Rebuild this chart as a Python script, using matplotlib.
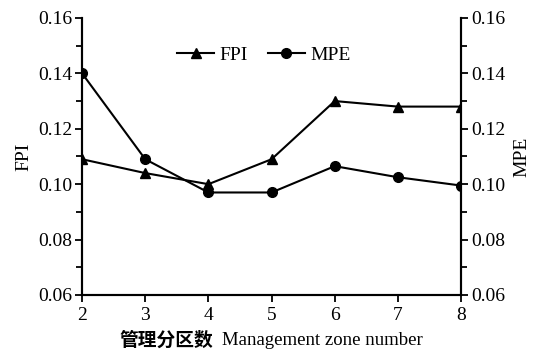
import matplotlib.pyplot as plt
from matplotlib.ticker import MultipleLocator, FormatStrFormatter

plt.rcParams['font.family'] = ['Liberation Serif', 'Noto Sans CJK SC']

zones = [2, 3, 4, 5, 6, 7, 8]
fpi = [0.109, 0.104, 0.100, 0.109, 0.130, 0.128, 0.128]
mpe = [0.140, 0.109, 0.097, 0.097, 0.1065, 0.1025, 0.0995]

fig = plt.figure(figsize=(5.33, 3.52), dpi=100)
ax = fig.add_axes([0.154, 0.162, 0.711, 0.787])
ax2 = ax.twinx()

l1, = ax.plot(zones, fpi, color='black', lw=1.5, marker='^', ms=7.5, label='FPI')
l2, = ax2.plot(zones, mpe, color='black', lw=1.5, marker='o', ms=7, label='MPE')

for a in (ax, ax2):
    a.set_ylim(0.06, 0.16)
    a.set_xlim(2, 8)
    a.yaxis.set_major_locator(MultipleLocator(0.02))
    a.yaxis.set_minor_locator(MultipleLocator(0.01))
    a.yaxis.set_major_formatter(FormatStrFormatter('%.2f'))
    a.spines['top'].set_visible(False)
    for s in a.spines.values():
        s.set_linewidth(1.5)
    a.tick_params(which='major', direction='out', length=5, width=1.3, labelsize=14, pad=2)
    a.tick_params(which='minor', direction='out', length=4, width=1.3)

ax.xaxis.set_major_locator(MultipleLocator(1))
ax.tick_params(axis='x', pad=4)
ax.set_ylabel('FPI', fontsize=14, labelpad=4)
ax2.set_ylabel('MPE', fontsize=14, labelpad=6)

# x label: Chinese part bold, English part regular
fig.text(0.401, 0.034, '管理分区数', fontsize=13.5, fontweight='bold',
         family='Noto Sans CJK SC', ha='right', va='center')
fig.text(0.416, 0.034, 'Management zone number', fontsize=13.5,
         ha='left', va='center')

ax.legend([l1, l2], ['FPI', 'MPE'], loc='upper center', ncol=2, frameon=False,
          fontsize=14, bbox_to_anchor=(0.48, 0.96), handlelength=1.9,
          columnspacing=1.0, handletextpad=0.3)

fig.savefig('out.png', dpi=100)
